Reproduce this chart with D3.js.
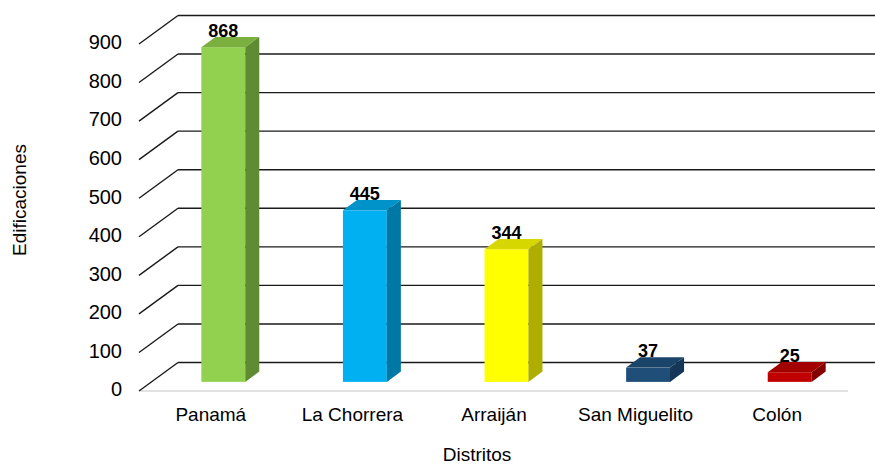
<!DOCTYPE html>
<html>
<head>
<meta charset="utf-8">
<script src="https://cdn.jsdelivr.net/npm/d3@7"></script>
<style>
  body { margin: 0; background: #fff; }
  text { font-family: Arial, "Liberation Sans", sans-serif; }
</style>
</head>
<body>
<div id="chart"></div>
<script>
// Data
var districts = ["Panamá", "La Chorrera", "Arraiján", "San Miguelito", "Colón"];
var buildings = [868, 445, 344, 37, 25];
var yTicks = [0, 100, 200, 300, 400, 500, 600, 700, 800, 900];

// Colours per bar: front, top, side
var frontColors = ["#92D050", "#00B0F0", "#FFFF00", "#1F4E79", "#C00000"];
var topColors = ["#7BB040", "#0093C9", "#D6D600", "#1A4468", "#A30000"];
var sideColors = ["#5F8C32", "#0078A4", "#AEAE00", "#143657", "#840000"];

var svgWidth = 875;
var svgHeight = 466;

var svg = d3.select("#chart")
    .append("svg")
    .attr("width", svgWidth)
    .attr("height", svgHeight);

// Depth of the 3D floor
var depthX = 39;
var depthY = -28.5;

// Front plane of the floor
var floorLeft = 140;
var floorRight = 848;
var floorFrontY = 391;

// Scales
var xScale = d3.scaleBand()
    .domain(districts)
    .range([floorLeft, floorRight]);

var yFront = d3.scaleLinear()
    .domain([0, 900])
    .range([floorFrontY, floorFrontY - 347]);

var yBack = d3.scaleLinear()
    .domain([0, 900])
    .range([floorFrontY + depthY, floorFrontY + depthY - 347]);

// Bars sit part way into the depth
var barFrontShift = 0.32;
var barDepth = 0.36;
var yBar = d3.scaleLinear()
    .domain([0, 900])
    .range([floorFrontY + depthY * barFrontShift, floorFrontY + depthY * barFrontShift - 347]);

var barWidth = xScale.bandwidth() * 0.31;
var bdx = depthX * barDepth;
var bdy = depthY * barDepth;

// Floor front line
svg.append("line")
    .attr("x1", floorLeft)
    .attr("x2", floorRight)
    .attr("y1", floorFrontY)
    .attr("y2", floorFrontY)
    .attr("stroke", "#d9d9d9")
    .attr("stroke-width", 1.5);

// Gridlines: diagonal on the side wall + horizontal on the back wall
var grid = svg.append("g");
yTicks.forEach(function(t) {
    grid.append("line")
        .attr("x1", floorLeft - 1)
        .attr("y1", yFront(t))
        .attr("x2", floorLeft - 1 + depthX)
        .attr("y2", yBack(t))
        .attr("stroke", "#1a1a1a")
        .attr("stroke-width", 1.4);
    grid.append("line")
        .attr("x1", floorLeft - 1 + depthX)
        .attr("y1", yBack(t))
        .attr("x2", svgWidth)
        .attr("y2", yBack(t))
        .attr("stroke", "#1a1a1a")
        .attr("stroke-width", 1.4);
});

// Y tick labels
svg.append("g")
    .selectAll("text")
    .data(yTicks)
    .enter()
    .append("text")
    .attr("x", 122)
    .attr("y", d => yFront(d))
    .attr("text-anchor", "end")
    .attr("dominant-baseline", "middle")
    .attr("font-size", "20px")
    .attr("fill", "#000")
    .text(d => d);

// Bars
var bars = svg.append("g")
    .selectAll("g")
    .data(districts)
    .enter()
    .append("g");

function barLeft(d) {
    return xScale(d) + xScale.bandwidth() / 2 + depthX * barFrontShift - barWidth / 2;
}

bars.append("rect")
    .attr("x", d => barLeft(d))
    .attr("y", (d, i) => yBar(buildings[i]))
    .attr("width", barWidth)
    .attr("height", (d, i) => yBar(0) - yBar(buildings[i]))
    .attr("fill", (d, i) => frontColors[i]);

// Top face
bars.append("path")
    .attr("d", function(d, i) {
        var x0 = barLeft(d);
        var y0 = yBar(buildings[i]);
        return "M" + x0 + "," + y0 +
            "L" + (x0 + bdx) + "," + (y0 + bdy) +
            "L" + (x0 + barWidth + bdx) + "," + (y0 + bdy) +
            "L" + (x0 + barWidth) + "," + y0 + "Z";
    })
    .attr("fill", (d, i) => topColors[i]);

// Side face
bars.append("path")
    .attr("d", function(d, i) {
        var x1 = barLeft(d) + barWidth;
        var y0 = yBar(buildings[i]);
        var yb = yBar(0);
        return "M" + x1 + "," + y0 +
            "L" + (x1 + bdx) + "," + (y0 + bdy) +
            "L" + (x1 + bdx) + "," + (yb + bdy) +
            "L" + x1 + "," + yb + "Z";
    })
    .attr("fill", (d, i) => sideColors[i]);

// Value labels
bars.append("text")
    .attr("x", d => barLeft(d) + barWidth / 2)
    .attr("y", (d, i) => yBar(buildings[i]) + bdy)
    .attr("text-anchor", "middle")
    .attr("font-size", "18px")
    .attr("font-weight", "bold")
    .attr("fill", "#000")
    .text((d, i) => buildings[i]);

// Category labels
svg.append("g")
    .selectAll("text")
    .data(districts)
    .enter()
    .append("text")
    .attr("x", d => xScale(d) + xScale.bandwidth() / 2)
    .attr("y", 421)
    .attr("text-anchor", "middle")
    .attr("font-size", "19px")
    .attr("fill", "#000")
    .text(d => d);

// Axis titles
svg.append("text")
    .attr("x", 477)
    .attr("y", 461)
    .attr("text-anchor", "middle")
    .attr("font-size", "19px")
    .attr("fill", "#000")
    .text("Distritos");

svg.append("text")
    .attr("transform", "translate(26, 200) rotate(-90)")
    .attr("text-anchor", "middle")
    .attr("font-size", "19px")
    .attr("fill", "#000")
    .text("Edificaciones");
</script>
</body>
</html>
